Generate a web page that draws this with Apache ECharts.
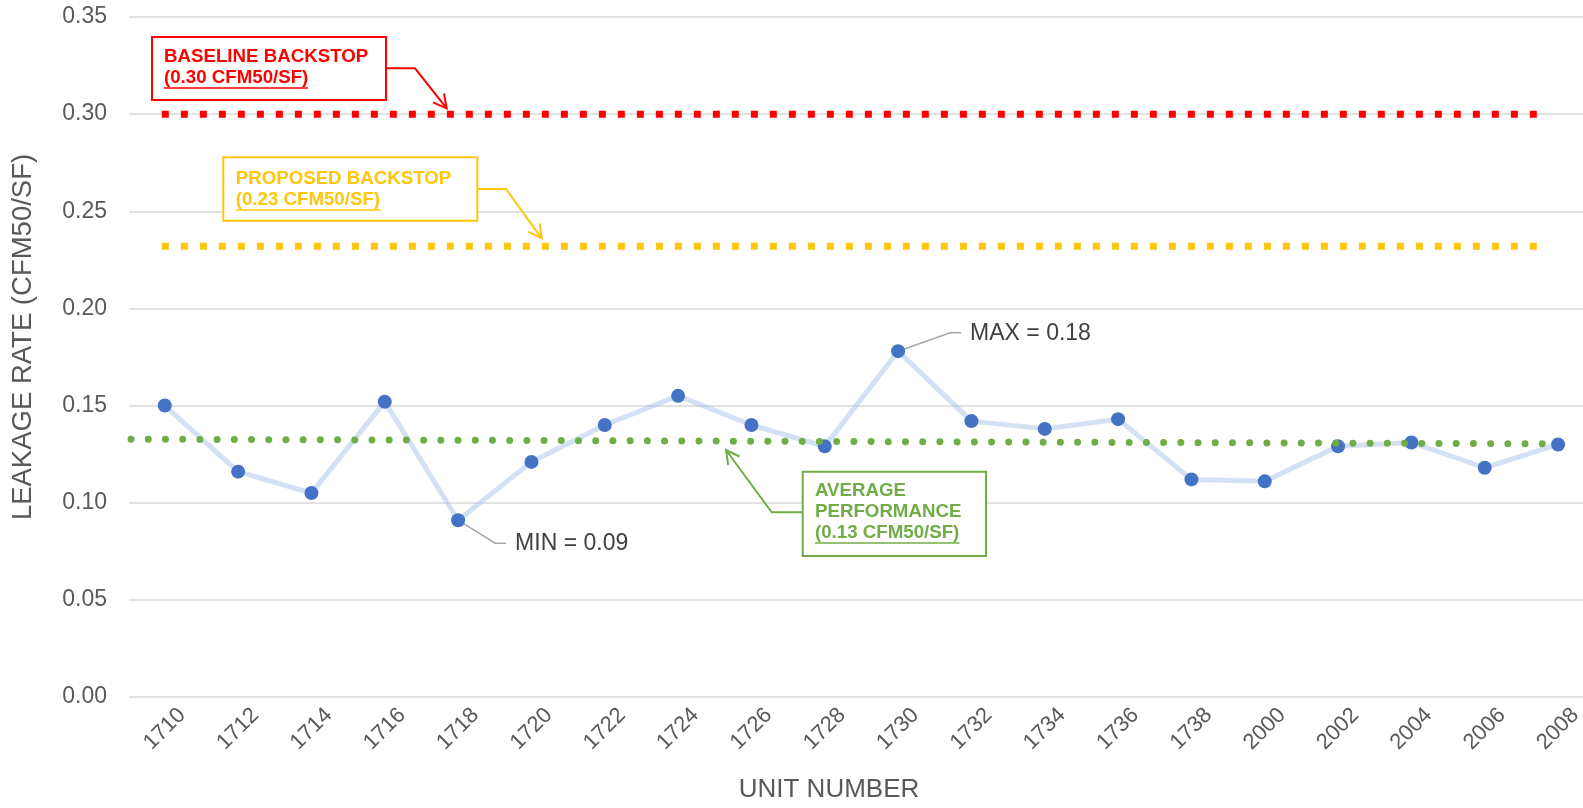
<!DOCTYPE html>
<html>
<head>
<meta charset="utf-8">
<script src="https://cdn.jsdelivr.net/npm/echarts@6/dist/echarts.min.js"></script>
<style>
  html, body { margin: 0; padding: 0; background: #fff; }
  #chart { width: 1583px; height: 808px; }
</style>
</head>
<body>
<div id="chart"></div>
<script>
// unit numbers along the x axis
const units = ['1710', '1712', '1714', '1716', '1718', '1720', '1722', '1724', '1726', '1728',
  '1730', '1732', '1734', '1736', '1738', '2000', '2002', '2004', '2006', '2008'];
// leakage rate, CFM50/SF
const leakage = [0.150, 0.116, 0.105, 0.152, 0.091, 0.121, 0.140, 0.155, 0.140, 0.129,
  0.178, 0.142, 0.138, 0.143, 0.112, 0.111, 0.129, 0.131, 0.118, 0.130];
// y ticks
const yMin = 0, yMax = 0.35, yStep = 0.05;
// reference levels
const baselineValue = 0.30;
const proposedValue = 0.232;
const averageValues = [0.1327, 0.1303];

const font = '"Liberation Sans", Arial, Helvetica, sans-serif';
const axisGrey = '#595959';

const chart = echarts.init(document.getElementById('chart'));

const backstopSpan = [-0.04, 18.71];
const averageSpan = [-0.46, 19.0];

const option = {
  animation: false,
  backgroundColor: '#fff',
  textStyle: {fontFamily: font},
  grid: {left: 129, right: 0, top: 17, bottom: 111, containLabel: false, outerBoundsMode: 'none'},
  xAxis: {
    type: 'value',
    min: -0.488,
    max: 19.34,
    name: 'UNIT NUMBER',
    nameLocation: 'middle',
    nameGap: 80,
    nameTextStyle: {fontSize: 26, color: axisGrey, fontFamily: font, padding: [0, 54, 0, 0]},
    axisLine: {show: false},
    axisTick: {show: false},
    splitLine: {show: false},
    axisLabel: {
      customValues: units.map((u, i) => i),
      formatter: (v) => units[Math.round(v)],
      rotate: 45,
      align: 'center',
      verticalAlign: 'middle',
      margin: 32,
      fontSize: 22,
      color: axisGrey,
      fontFamily: font
    }
  },
  yAxis: {
    type: 'value',
    min: yMin,
    max: yMax,
    interval: yStep,
    name: 'LEAKAGE RATE (CFM50/SF)',
    nameLocation: 'middle',
    nameGap: 92,
    nameTextStyle: {fontSize: 27.5, color: axisGrey, fontFamily: font, padding: [0, 0, 0, 40]},
    axisLine: {show: false},
    axisTick: {show: false},
    splitLine: {lineStyle: {color: '#D9D9D9', width: 1.5}},
    axisLabel: {
      formatter: (v) => v.toFixed(2),
      margin: 22,
      fontSize: 23,
      color: axisGrey,
      fontFamily: font
    }
  },
  series: [
    {
      type: 'line',
      data: leakage.map((v, i) => [i, v]),
      symbol: 'circle',
      symbolSize: 14,
      itemStyle: {color: '#4472C4'},
      lineStyle: {color: 'rgba(170,195,235,0.5)', width: 5},
      z: 2
    },
    {
      type: 'line',
      data: backstopSpan.map(x => [x, baselineValue]),
      symbol: 'none',
      silent: true,
      lineStyle: {color: '#FF0000', width: 7, type: [7, 12], cap: 'butt'},
      z: 3
    },
    {
      type: 'line',
      data: backstopSpan.map(x => [x, proposedValue]),
      symbol: 'none',
      silent: true,
      lineStyle: {color: '#FFC60B', width: 7, type: [7, 12], cap: 'butt'},
      z: 3
    },
    {
      type: 'line',
      data: averageSpan.map((x, i) => [x, averageValues[i]]),
      symbol: 'none',
      silent: true,
      lineStyle: {color: '#70AD47', width: 7, type: [0.01, 17.2], cap: 'round'},
      z: 4
    }
  ]
};
option && chart.setOption(option);

// ---- annotations ----
const arrowHead = (from, tip, color) => {
  const dx = tip[0] - from[0], dy = tip[1] - from[1];
  const len = Math.sqrt(dx * dx + dy * dy);
  const ux = dx / len, uy = dy / len;
  const a = 28 * Math.PI / 180, l = 15;
  const p = (s) => [
    tip[0] - l * (ux * Math.cos(a) - s * uy * Math.sin(a)),
    tip[1] - l * (uy * Math.cos(a) + s * ux * Math.sin(a))
  ];
  return {type: 'polyline', shape: {points: [p(1), tip, p(-1)]}, style: {stroke: color, lineWidth: 2, fill: null}, z: 10};
};

const calloutBox = (cfg) => {
  const els = [];
  els.push({type: 'rect', shape: cfg.rect, style: {fill: '#fff', stroke: cfg.color, lineWidth: 2}, z: 10});
  cfg.lines.forEach((t, i) => {
    els.push({
      type: 'text', z: 11,
      style: {text: t, x: cfg.textX, y: cfg.lineYs[i], fill: cfg.color, font: 'bold 18.7px ' + font, verticalAlign: 'middle'}
    });
  });
  els.push({type: 'line', shape: cfg.underline, style: {stroke: cfg.color, lineWidth: 1.3}, z: 11});
  els.push({type: 'polyline', shape: {points: cfg.leader}, style: {stroke: cfg.color, lineWidth: 2, fill: null}, z: 10});
  const n = cfg.leader.length;
  els.push(arrowHead(cfg.leader[n - 2], cfg.leader[n - 1], cfg.color));
  return els;
};

const graphics = [].concat(
  calloutBox({
    color: '#FF0000',
    rect: {x: 152, y: 37, width: 234, height: 63},
    lines: ['BASELINE BACKSTOP', '(0.30 CFM50/SF)'],
    textX: 164, lineYs: [57, 78],
    underline: {x1: 164, y1: 88, x2: 308, y2: 88},
    leader: [[386, 68.3], [415, 68.3], [446.7, 108.3]]
  }),
  calloutBox({
    color: '#FFC60B',
    rect: {x: 223.3, y: 157.3, width: 254, height: 63.4},
    lines: ['PROPOSED BACKSTOP', '(0.23 CFM50/SF)'],
    textX: 235.7, lineYs: [178.5, 200],
    underline: {x1: 235.7, y1: 210, x2: 380.5, y2: 210},
    leader: [[477.3, 189], [506, 189], [541.7, 238.3]]
  }),
  calloutBox({
    color: '#70AD47',
    rect: {x: 802.7, y: 471.7, width: 183.3, height: 84.3},
    lines: ['AVERAGE', 'PERFORMANCE', '(0.13 CFM50/SF)'],
    textX: 815, lineYs: [491, 512, 533],
    underline: {x1: 815, y1: 543, x2: 959.5, y2: 543},
    leader: [[802.7, 512.3], [771.7, 512.3], [726, 450]]
  })
);

// MIN / MAX labels hooked to the data points
const iMin = leakage.indexOf(Math.min(...leakage));
const iMax = leakage.indexOf(Math.max(...leakage));
const pMin = chart.convertToPixel({seriesIndex: 0}, [iMin, leakage[iMin]]);
const pMax = chart.convertToPixel({seriesIndex: 0}, [iMax, leakage[iMax]]);
const leaderStyle = {stroke: '#A6A6A6', lineWidth: 1.5, fill: null};
graphics.push(
  {type: 'polyline', z: 1, shape: {points: [pMin, [pMin[0] + 37, pMin[1] + 23], [pMin[0] + 48, pMin[1] + 23]]}, style: leaderStyle},
  {type: 'text', z: 11, style: {text: 'MIN = ' + leakage[iMin].toFixed(2), x: pMin[0] + 57, y: pMin[1] + 23, fill: '#404040', font: '23px ' + font, verticalAlign: 'middle'}},
  {type: 'polyline', z: 1, shape: {points: [pMax, [pMax[0] + 52, pMax[1] - 18.4], [pMax[0] + 63, pMax[1] - 18.4]]}, style: leaderStyle},
  {type: 'text', z: 11, style: {text: 'MAX = ' + leakage[iMax].toFixed(2), x: pMax[0] + 72, y: pMax[1] - 17.5, fill: '#404040', font: '23px ' + font, verticalAlign: 'middle'}}
);

chart.setOption({graphic: graphics});
</script>
</body>
</html>
